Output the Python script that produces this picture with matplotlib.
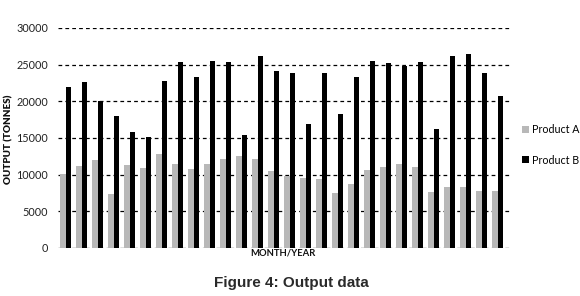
import matplotlib
matplotlib.use("Agg")
import matplotlib.pyplot as plt
import numpy as np

product_a = [10100, 11200, 12000, 7400, 11300, 10900, 12800, 11500, 10800, 11500,
             12100, 12500, 12100, 10500, 9800, 9500, 9400, 7500, 8700, 10700,
             11100, 11500, 11000, 7600, 8300, 8300, 7750, 7750]
product_b = [21900, 22700, 20000, 18000, 15800, 15200, 22800, 25300, 23300, 25500,
             25400, 15400, 26200, 24200, 23800, 16900, 23800, 18300, 23300, 25500,
             25200, 24800, 25300, 16200, 26200, 26400, 23800, 20700]
yticks = [0, 5000, 10000, 15000, 20000, 25000, 30000]

fig = plt.figure(figsize=(5.8, 2.96), dpi=100)
ax = fig.add_axes([58/580, 1-248/296, (510-58)/580, (248-28)/296])

x = np.arange(len(product_a))
ax.bar(x - 0.19, product_a, width=0.38, color="#b8b8b8", label="Product A", zorder=3)
ax.bar(x + 0.17, product_b, width=0.33, color="#000000", label="Product B", zorder=3)

ax.set_ylim(0, 30000)
ax.set_xlim(-0.5, 27.75)
ax.set_yticks(yticks)
ax.set_yticklabels([str(v) for v in yticks], fontfamily="Lato", fontsize=7.8, color="#222222")
ax.set_xticks([])
ax.tick_params(axis="y", length=0, pad=7)
for s in ax.spines.values():
    s.set_visible(False)
ax.yaxis.grid(True, linestyle=(0, (3, 2.5)), color="#000000", linewidth=0.9, zorder=1)
ax.set_axisbelow(True)

fig.text(9/580, 1-139/296, "OUTPUT (TONNES)", rotation=90, ha="center", va="center",
         fontfamily="Lato", fontweight="heavy", fontsize=7.1, color="#111111")
fig.text(283/580, 1-253/296, "MONTH/YEAR", ha="center", va="center",
         fontfamily="Lato", fontweight="bold", fontsize=6.8, color="#111111")
fig.text(291/580, 1-283/296, "Figure 4: Output data", ha="center", va="center",
         fontfamily="Liberation Sans", fontweight="bold", fontsize=11, color="#2a2a2a")

handles, labels = ax.get_legend_handles_labels()
fig.legend(handles, labels, loc="center left", bbox_to_anchor=(517/580, 1-145/296),
           frameon=False, prop={"family": "Lato", "size": 7.7}, handlelength=0.6,
           handleheight=0.6, handletextpad=0.3, labelspacing=1.8, borderpad=0)

fig.savefig("out.png", dpi=100)
